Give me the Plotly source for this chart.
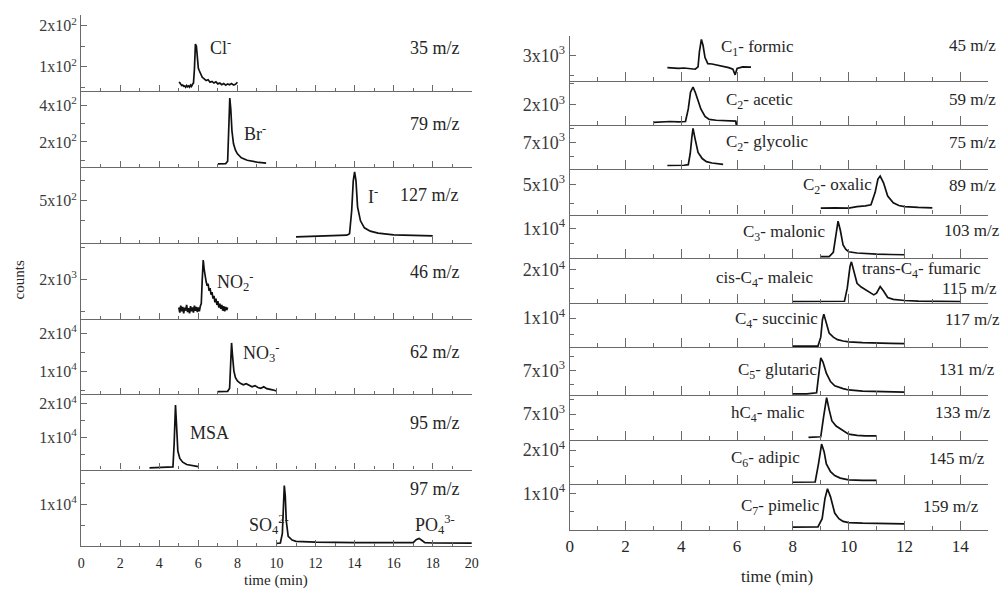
import plotly.graph_objects as go

W, H = 1005, 589
FONT = "Liberation Serif"
AXC = "#6a6a6a"
TXT = "#262626"

# ---------------- inorganic anions (left column) ----------------
cl_t = [5.0, 5.05, 5.1, 5.15, 5.2, 5.25, 5.3, 5.35, 5.4, 5.45, 5.5, 5.55, 5.6, 5.65, 5.7, 5.75, 5.8, 5.85,
        5.9, 5.95, 6.0, 6.05, 6.1, 6.15, 6.2, 6.3, 6.4, 6.5, 6.6, 6.7, 6.8, 6.9, 7.0, 7.1, 7.2, 7.3, 7.4,
        7.5, 7.6, 7.7, 7.8, 7.9, 8.0]
cl_c = [62, 61, 57, 54, 55, 52, 53, 50, 54, 51, 53, 50, 55, 52, 57, 60, 95, 155, 150, 118, 96, 90, 84, 80,
        74, 70, 66, 68, 62, 64, 60, 63, 58, 60, 56, 59, 55, 58, 56, 59, 55, 57, 62]

br_t = [7.0, 7.2, 7.4, 7.5, 7.55, 7.61, 7.66, 7.72, 7.8, 7.9, 8.0, 8.2, 8.5, 8.8, 9.1, 9.47]
br_c = [80, 80, 82, 95, 300, 440, 380, 260, 190, 155, 135, 113, 100, 92, 88, 84]

i_t = [11.0, 12.0, 13.0, 13.6, 13.74, 13.85, 13.93, 14.0, 14.07, 14.15, 14.3, 14.5, 14.8, 15.2, 16.0, 17.0, 18.0]
i_c = [320, 322, 325, 328, 335, 450, 600, 645, 600, 470, 400, 365, 348, 338, 330, 327, 325]

no2_t = [5.00, 5.05, 5.10, 5.15, 5.20, 5.25, 5.30, 5.35, 5.40, 5.45, 5.50, 5.55, 5.60, 5.65, 5.70, 5.75,
         5.80, 5.85, 5.90, 5.95, 6.00, 6.05, 6.10, 6.15, 6.20, 6.25, 6.30, 6.35, 6.40, 6.45, 6.50, 6.55,
         6.60, 6.65, 6.70, 6.75, 6.80, 6.85, 6.90, 6.95, 7.00, 7.05, 7.10, 7.15, 7.20, 7.25, 7.30, 7.35,
         7.40, 7.45, 7.50]
no2_c = [1560, 1480, 1590, 1500, 1570, 1470, 1560, 1510, 1600, 1490, 1550, 1470, 1580, 1500, 1560, 1480,
         1590, 1510, 1570, 1490, 1560, 1500, 1580, 1620, 2000, 2300, 2150, 2020, 1960, 1900, 1930, 1820,
         1860, 1760, 1800, 1700, 1740, 1640, 1700, 1600, 1660, 1560, 1620, 1540, 1600, 1510, 1580, 1500,
         1570, 1520, 1560]

no3_t = [7.0, 7.3, 7.5, 7.6, 7.65, 7.7, 7.75, 7.82, 7.9, 8.0, 8.15, 8.3, 8.45, 8.6, 8.75, 8.9, 9.05, 9.2,
         9.35, 9.5, 9.65, 9.8, 10.0]
no3_c = [4600, 4600, 4700, 5500, 12000, 17400, 14000, 10000, 8250, 7400, 6800, 6400, 6700, 6300, 5900,
         6200, 5700, 5500, 5900, 5400, 5300, 5100, 4800]

msa_t = [3.5, 4.0, 4.5, 4.7, 4.76, 4.83, 4.88, 4.95, 5.05, 5.2, 5.4, 5.7, 6.0]
msa_c = [1000, 1050, 1100, 1300, 8000, 19600, 14000, 6000, 3800, 2700, 2000, 1600, 1400]

so4_t = [10.0, 10.2, 10.3, 10.35, 10.4, 10.45, 10.5, 10.6, 10.8, 11.0, 11.5, 12.0, 14.0, 16.0, 17.0,
         17.15, 17.3, 17.45, 17.6, 18.0, 19.0, 20.0]
so4_c = [600, 700, 3000, 9000, 14500, 12000, 6000, 2300, 1400, 1100, 950, 900, 800, 750, 780, 1500, 1800,
         1300, 800, 700, 680, 650]

# ---------------- organic acids (right column) ----------------
formic_t = [3.5, 3.7, 3.9, 4.1, 4.3, 4.5, 4.6, 4.65, 4.72, 4.78, 4.85, 4.95, 5.1, 5.3, 5.5, 5.7, 5.85,
            5.93, 6.0, 6.2, 6.5]
formic_c = [2700, 2690, 2680, 2690, 2670, 2660, 2720, 3100, 3400, 3250, 2950, 2800, 2790, 2760, 2740, 2700,
            2660, 2520, 2680, 2720, 2710]

acetic_t = [3.0, 3.3, 3.6, 3.9, 4.15, 4.25, 4.33, 4.42, 4.5, 4.6, 4.7, 4.85, 5.0, 5.25, 5.5, 5.75, 5.95,
            5.98, 6.0]
acetic_c = [1580, 1590, 1600, 1590, 1600, 1900, 2300, 2420, 2300, 2100, 1900, 1720, 1650, 1630, 1620, 1610,
            1610, 1480, 1600]

glycolic_t = [3.5, 3.8, 4.1, 4.25, 4.32, 4.38, 4.42, 4.5, 4.6, 4.75, 4.9, 5.1, 5.3, 5.5]
glycolic_c = [6170, 6170, 6180, 6200, 6600, 7200, 7500, 7100, 6640, 6420, 6310, 6260, 6230, 6210]

oxalic_t = [9.0, 9.5, 10.0, 10.3, 10.6, 10.8, 10.95, 11.05, 11.13, 11.25, 11.4, 11.6, 11.8, 12.0, 12.5, 13.0]
oxalic_c = [4380, 4390, 4380, 4420, 4440, 4470, 4800, 5150, 5230, 5050, 4700, 4520, 4450, 4420, 4400, 4390]

malonic_t = [9.0, 9.3, 9.45, 9.55, 9.62, 9.7, 9.8, 9.9, 10.0, 10.3, 10.6, 11.0, 11.5, 12.0]
malonic_c = [570, 600, 2000, 9000, 12470, 9500, 4470, 3000, 2230, 1800, 1570, 1400, 1300, 1230]

maleic_t = [8.0, 8.5, 9.0, 9.5, 9.85, 9.95, 10.05, 10.1, 10.2, 10.3, 10.45, 10.6, 10.75, 10.9, 11.0, 11.13,
            11.25, 11.4, 11.6, 11.8, 12.0, 12.5, 13.0, 13.5, 14.0]
maleic_c = [11330, 11330, 11330, 11350, 11400, 15000, 21000, 22220, 19500, 16330, 15300, 14500, 13700, 13150,
            13600, 15430, 14200, 12430, 11900, 11700, 11600, 11450, 11400, 11350, 11330]

succinic_t = [8.0, 8.5, 8.9, 9.0, 9.06, 9.11, 9.2, 9.3, 9.45, 9.6, 9.8, 10.0, 10.5, 11.0, 11.5, 12.0]
succinic_c = [1160, 1160, 1200, 4000, 9500, 11250, 8000, 5310, 4000, 3230, 2800, 2550, 2300, 2100, 2050, 2000]

glutaric_t = [8.0, 8.5, 8.85, 8.95, 9.0, 9.08, 9.2, 9.35, 9.5, 9.8, 10.0, 10.5, 11.0, 11.5, 12.0]
glutaric_c = [6160, 6160, 6200, 7000, 7450, 7300, 6900, 6600, 6450, 6350, 6300, 6260, 6240, 6230, 6220]

malic_t = [8.56, 8.8, 9.0, 9.1, 9.21, 9.3, 9.4, 9.55, 9.7, 9.85, 10.0, 10.3, 10.6, 11.0]
malic_c = [6220, 6220, 6240, 6900, 7550, 7150, 6770, 6600, 6500, 6400, 6330, 6290, 6270, 6270]

adipic_t = [8.0, 8.5, 8.8, 8.92, 9.03, 9.12, 9.2, 9.35, 9.5, 9.7, 10.0, 10.5, 11.0]
adipic_c = [10470, 10470, 10550, 16000, 21760, 19500, 15880, 13600, 12440, 11700, 11180, 11050, 11000]

pimelic_t = [8.0, 8.5, 8.9, 9.05, 9.15, 9.24, 9.35, 9.5, 9.65, 9.8, 10.0, 10.5, 11.0, 11.5, 12.0]
pimelic_c = [700, 700, 760, 3000, 8500, 11200, 9000, 4540, 3000, 2260, 1900, 1750, 1640, 1600, 1580]

# axis tick labels
left_xticks = [0, 2, 4, 6, 8, 10, 12, 14, 16, 18, 20]
right_xticks = [0, 2, 4, 6, 8, 10, 12, 14]


def sci(m, e):
    return f"{m}x10<sup>{e}</sup>"


# panel: (times, counts, y-range, major ticks, major labels, minor ticks)
left_panels = [
    (cl_t, cl_c, [40, 225], [100, 200], [sci(1, 2), sci(2, 2)], [50, 150]),
    (br_t, br_c, [64, 477], [200, 400], [sci(2, 2), sci(4, 2)], [100, 300]),
    (i_t, i_c, [290, 670], [500], [sci(5, 2)], [400, 600]),
    (no2_t, no2_c, [1380, 2568], [2000], [sci(2, 3)], [1500, 2500]),
    (no3_t, no3_c, [4000, 23650], [10000, 20000], [sci(1, 4), sci(2, 4)], [5000, 15000]),
    (msa_t, msa_c, [500, 22850], [10000, 20000], [sci(1, 4), sci(2, 4)], [5000, 15000]),
    (so4_t, so4_c, [0, 18300], [10000], [sci(1, 4)], [5000, 15000]),
]
right_panels = [
    (formic_t, formic_c, [2370, 3490], [3000], [sci(3, 3)], [2500]),
    (acetic_t, acetic_c, [1515, 2570], [2000], [sci(2, 3)], [2500]),
    (glycolic_t, glycolic_c, [6050, 7620], [7000], [sci(7, 3)], [6500, 7500]),
    (oxalic_t, oxalic_c, [4210, 5420], [5000], [sci(5, 3)], [4500]),
    (malonic_t, malonic_c, [0, 14670], [10000], [sci(1, 4)], [5000]),
    (maleic_t, maleic_c, [10870, 23170], [20000], [sci(2, 4)], [15000]),
    (succinic_t, succinic_c, [840, 14690], [10000], [sci(1, 4)], [5000]),
    (glutaric_t, glutaric_c, [6120, 7830], [7000], [sci(7, 3)], [6500, 7500]),
    (malic_t, malic_c, [6130, 7640], [7000], [sci(7, 3)], [6500, 7500]),
    (adipic_t, adipic_c, [10000, 22940], [20000], [sci(2, 4)], [15000]),
    (pimelic_t, pimelic_c, [-200, 12570], [10000], [sci(1, 4)], [5000]),
]

# pixel layout of the two stacks
left_x = (78, 473)
right_x = (572, 995)
left_edges = [12.5, 88.7, 164.7, 241.0, 317.7, 393.0, 469.0, 545.7]
right_edges = [33.0, 78.3, 122.7, 166.7, 212.7, 256.7, 301.7, 346.0, 394.0, 439.3, 483.3, 530.0]

fig = go.Figure()
layout = {}


def add_column(panels, xpx, edges, xmax, xticks, start, tick_font, tlen):
    n = len(panels)
    for k, (t, c, yr, maj, majt, mnr) in enumerate(panels):
        i = start + k
        sfx = "" if i == 1 else str(i)
        fig.add_trace(go.Scatter(x=t, y=c, mode="lines", xaxis="x" + sfx, yaxis="y" + sfx,
                                 line=dict(color="#111111", width=1.7), showlegend=False,
                                 hoverinfo="skip"))
        top, bot = edges[k], edges[k + 1]
        layout["xaxis" + sfx] = dict(
            domain=[xpx[0] / W, xpx[1] / W], anchor="y" + sfx, range=[0, xmax],
            showline=True, linecolor=AXC, linewidth=1.3, showgrid=False, zeroline=False,
            ticks="inside", ticklen=tlen[0], tickwidth=1.2, tickcolor=AXC,
            tickmode="array", tickvals=xticks, ticktext=[str(v) for v in xticks],
            minor=dict(ticks="inside", ticklen=tlen[1], tickwidth=1.1, tickcolor=AXC,
                       tickmode="linear", tick0=0, dtick=1),
            showticklabels=(k == n - 1), tickfont=dict(family=FONT, size=tick_font[0], color=TXT),
            ticklabelstandoff=tick_font[2],
            fixedrange=True,
        )
        layout["yaxis" + sfx] = dict(
            domain=[1 - bot / H, 1 - top / H], anchor="x" + sfx, range=yr,
            showline=True, linecolor=AXC, linewidth=1.3, showgrid=False, zeroline=False,
            ticks="inside", ticklen=6, tickwidth=1.2, tickcolor=AXC,
            tickmode="array", tickvals=maj, ticktext=majt,
            minor=dict(ticks="inside", ticklen=4, tickwidth=1.1, tickcolor=AXC,
                       tickmode="array", tickvals=mnr),
            tickfont=dict(family=FONT, size=tick_font[1], color="#3a3a3a"),
            fixedrange=True,
        )


add_column(left_panels, left_x, left_edges, 20, left_xticks, 1, (14, 16, 4), (6, 3))
add_column(right_panels, right_x, right_edges, 15, right_xticks, 8, (17, 18, 0), (9, 4))

annotations = []


def ann(text, x, y, size=18, xanchor="left", angle=0):
    annotations.append(dict(text=text, x=x / W, y=1 - y / H, xref="paper", yref="paper",
                            xanchor=xanchor, yanchor="middle", showarrow=False, textangle=angle,
                            font=dict(family=FONT, size=size, color=TXT)))


# species and m/z labels, left column
ann("Cl<sup>-</sup>", 206, 44)
ann("35 m/z", 408, 45)
ann("Br<sup>-</sup>", 241, 130)
ann("79 m/z", 408, 122)
ann("I<sup>-</sup>", 366, 193)
ann("127 m/z", 398, 193)
ann("NO<sub>2</sub><sup>-</sup>", 213, 280)
ann("46 m/z", 408, 270)
ann("NO<sub>3</sub><sup>-</sup>", 240, 351)
ann("62 m/z", 408, 351)
ann("MSA", 186, 432)
ann("95 m/z", 408, 422)
ann("SO<sub>4</sub><sup>2-</sup>", 246, 524)
ann("PO<sub>4</sub><sup>3-</sup>", 414, 524)
ann("97 m/z", 408, 488)

# species and m/z labels, right column
ann("C<sub>1</sub>- formic", 723, 45, 17)
ann("45 m/z", 953, 43, 17)
ann("C<sub>2</sub>- acetic", 728, 98, 17)
ann("59 m/z", 953, 97, 17)
ann("C<sub>2</sub>- glycolic", 728, 141, 17)
ann("75 m/z", 953, 140, 17)
ann("C<sub>2</sub>- oxalic", 806, 184, 17)
ann("89 m/z", 953, 183, 17)
ann("C<sub>3</sub>- malonic", 745, 231, 17)
ann("103 m/z", 948, 229, 17)
ann("cis-C<sub>4</sub>- maleic", 718, 277, 17)
ann("trans-C<sub>4</sub>- fumaric", 865, 268, 17)
ann("115 m/z", 946, 287, 17)
ann("C<sub>4</sub>- succinic", 737, 319, 17)
ann("117 m/z", 949, 318, 17)
ann("C<sub>5</sub>- glutaric", 740, 370, 17)
ann("131 m/z", 943, 368, 17)
ann("hC<sub>4</sub>- malic", 733, 413, 17)
ann("133 m/z", 939, 412, 17)
ann("C<sub>6</sub>- adipic", 733, 458, 17)
ann("145 m/z", 933, 458, 17)
ann("C<sub>7</sub>- pimelic", 743, 507, 17)
ann("159 m/z", 927, 506, 17)

# axis titles
ann("time (min)", 275, 580, 15, "center")
ann("time (min)", 782, 576, 17, "center")
ann("counts", 15, 278, 15, "center", -90)

fig.update_layout(
    width=W, height=H, margin=dict(l=0, r=0, t=0, b=0),
    paper_bgcolor="white", plot_bgcolor="white",
    annotations=annotations, **layout,
)

fig.write_html("out.html")
